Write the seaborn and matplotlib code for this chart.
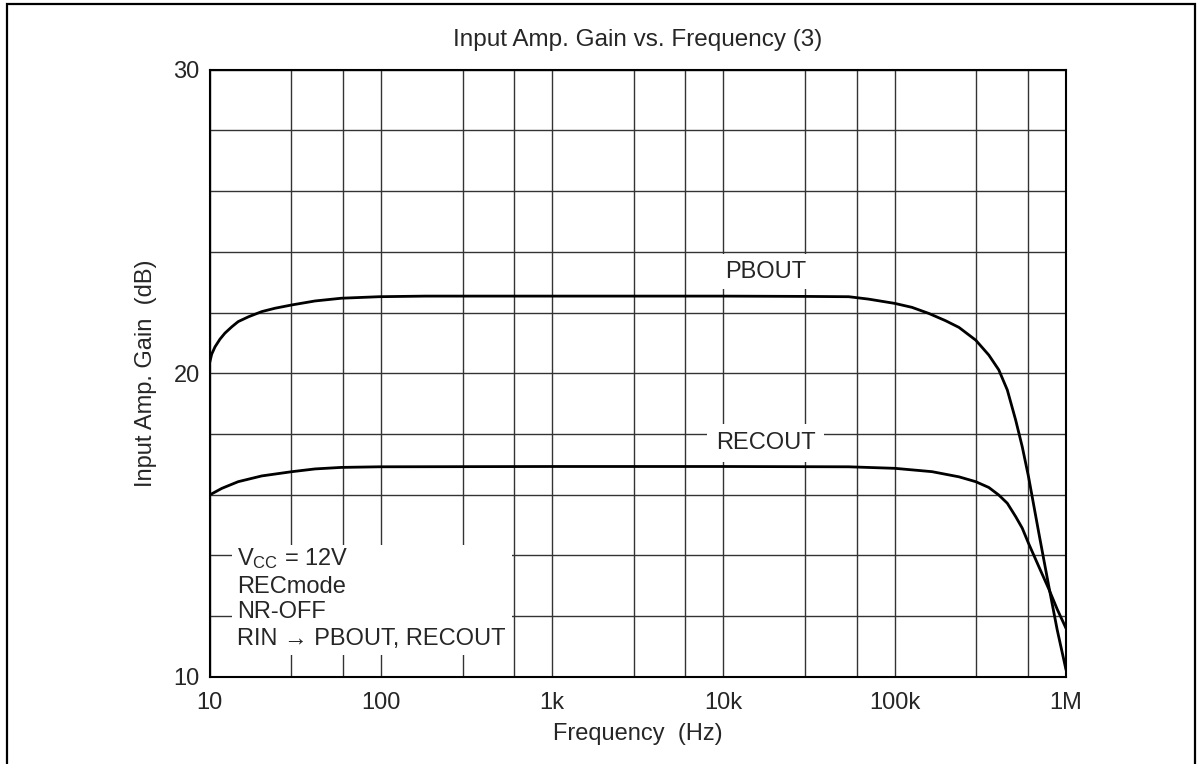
import matplotlib
matplotlib.use("Agg")
import matplotlib.pyplot as plt
import matplotlib.patches as mpatches
import seaborn as sns
import pandas as pd

# ---- data ----
pb_freq = [10, 10.3, 10.77, 11.5, 12.3, 13.5, 14.7, 16.9, 20.2, 24.1, 30.3, 41.3, 58.8,
           97.7, 182, 1000, 10000, 30000, 53900, 70500, 100000, 126000, 158000, 198000,
           237000, 297000, 354000, 405000, 454000, 508000, 555000, 604000, 694000,
           794000, 888000, 1000000]
pb_gain = [20.33, 20.63, 20.87, 21.12, 21.32, 21.53, 21.70, 21.86, 22.03, 22.14, 22.25,
           22.38, 22.47, 22.52, 22.54, 22.54, 22.54, 22.53, 22.52, 22.44, 22.30, 22.17,
           21.97, 21.73, 21.51, 21.09, 20.60, 20.11, 19.45, 18.46, 17.58, 16.59, 14.73,
           12.97, 11.55, 10.23]

rec_freq = [10, 11.8, 14.7, 20.2, 30.3, 41.3, 58.8, 97.7, 1000, 10000, 53900, 100000,
            165000, 237000, 297000, 354000, 405000, 454000, 508000, 555000, 604000,
            694000, 794000, 888000, 1000000]
rec_gain = [15.99, 16.21, 16.43, 16.62, 16.76, 16.85, 16.90, 16.92, 16.93, 16.93, 16.92,
            16.87, 16.76, 16.59, 16.43, 16.24, 15.99, 15.72, 15.28, 14.90, 14.40, 13.63,
            12.89, 12.23, 11.60]

x_major = [10, 100, 1000, 10000, 100000, 1000000]
x_major_labels = ["10", "100", "1k", "10k", "100k", "1M"]
x_minor = [30, 60, 300, 600, 3000, 6000, 30000, 60000, 300000, 600000]
y_major = [10, 20, 30]
y_minor = [12, 14, 16, 18, 22, 24, 26, 28]

title = "Input Amp. Gain vs. Frequency (3)"
xlabel = "Frequency  (Hz)"
ylabel = "Input Amp. Gain  (dB)"
conditions = [r"$\mathregular{V_{CC}}$ = 12V", "RECmode", "NR-OFF", "RIN \u2192 PBOUT, RECOUT"]

# ---- style ----
sns.set_style("white")
plt.rcParams["font.family"] = ["Liberation Sans", "DejaVu Sans"]
plt.rcParams["mathtext.fontset"] = "custom"
plt.rcParams["mathtext.rm"] = "Liberation Sans"
FS = 17

fig = plt.figure(figsize=(12.02, 7.64), dpi=100)
ax = fig.add_axes([0.1743, 0.1139, 0.7126, 0.7951])
ax.set_xscale("log")

df_pb = pd.DataFrame({"f": pb_freq, "g": pb_gain})
df_rec = pd.DataFrame({"f": rec_freq, "g": rec_gain})
sns.lineplot(data=df_pb, x="f", y="g", ax=ax, color="black", lw=2.0, zorder=4)
sns.lineplot(data=df_rec, x="f", y="g", ax=ax, color="black", lw=2.0, zorder=4)

ax.set_xlim(10, 1e6)
ax.set_ylim(10, 30)
ax.set_xticks(x_major)
ax.set_xticklabels(x_major_labels)
ax.set_xticks(x_minor, minor=True)
ax.set_yticks(y_major)
ax.set_yticks(y_minor, minor=True)
ax.tick_params(axis="both", which="both", length=0, labelsize=FS)
ax.tick_params(axis="x", pad=11)
ax.tick_params(axis="y", pad=7)
ax.grid(True, which="both", color="#333333", lw=1.0, zorder=1)
for s in ax.spines.values():
    s.set_color("black")
    s.set_linewidth(1.5)
    s.set_zorder(5)

ax.set_title(title, fontsize=17.5, pad=17)
ax.set_xlabel(xlabel, fontsize=FS, labelpad=6)
ax.set_ylabel(ylabel, fontsize=FS, labelpad=12)

# curve labels
ax.text(766 / 1202, 1 - 271.5 / 764, "PBOUT", transform=fig.transFigure, fontsize=FS,
        ha="center", va="center", zorder=6,
        bbox=dict(facecolor="white", edgecolor="none", pad=5))
ax.text(765.5 / 1202, 1 - 443 / 764, "RECOUT", transform=fig.transFigure, fontsize=FS,
        ha="center", va="center", zorder=6,
        bbox=dict(facecolor="white", edgecolor="none", pad=6))

# conditions box
ax.add_patch(mpatches.Rectangle((0.0263, 0.0362), 0.3267, 0.181, transform=ax.transAxes,
                                facecolor="white", edgecolor="none", zorder=3))
ys = [0.1843, 0.1383, 0.0971, 0.0527]
for t, yy in zip(conditions, ys):
    ax.text(0.0321, yy, t, transform=ax.transAxes, fontsize=FS, ha="left",
            va="baseline", zorder=6)

# figure border
fig.patches.append(mpatches.Rectangle((6.5 / 1202, -0.05), (1195 - 6.5) / 1202, 1.05 - 3.5 / 764,
                                      transform=fig.transFigure, fill=False,
                                      edgecolor="black", lw=1.6))

fig.savefig("out.png", dpi=100)
